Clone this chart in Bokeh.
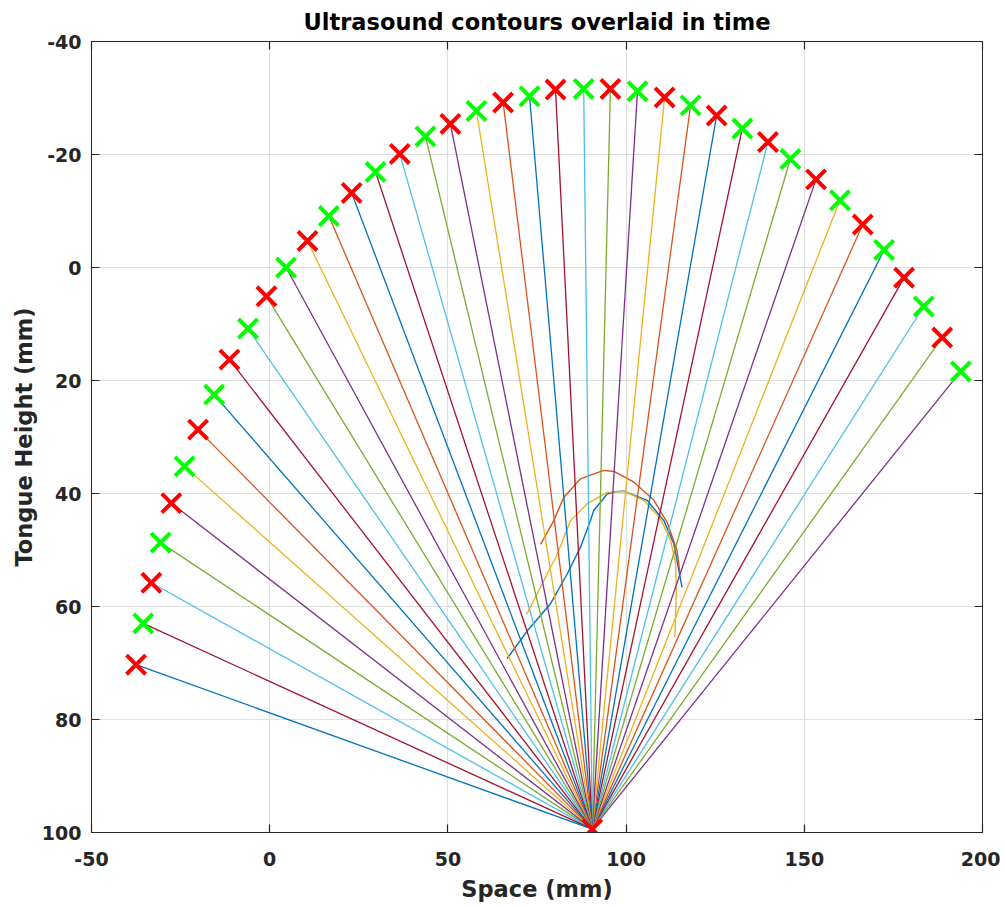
from bokeh.plotting import figure
from bokeh.models import Range1d, FixedTicker, LinearAxis
from bokeh.embed import file_html
from bokeh.resources import INLINE

# ---------------- data ----------------
title_text = "Ultrasound contours overlaid in time"
x_label = "Space (mm)"
y_label = "Tongue Height (mm)"
x_ticks = [-50, 0, 50, 100, 150, 200]
y_ticks = [-40, -20, 0, 20, 40, 60, 80, 100]

# probe origin (all rays start here)
origin_x = 90.5
origin_y = 99.4

# end points of the rays (alternating red / green crosses)
point_x = [-37.5, -35.5, -33.2, -30.6, -27.6, -23.9, -20.1, -15.6, -11.3, -6.1,
           -0.9, 4.6, 10.6, 16.6, 23.0, 29.7, 36.5, 43.7, 50.7, 58.0,
           65.5, 72.9, 80.2, 88.1, 95.6, 103.2, 110.8, 118.1, 125.4, 132.6,
           139.8, 146.1, 153.3, 160.0, 166.4, 172.4, 178.0, 183.5, 188.7, 193.9]
point_y = [70.3, 63.0, 55.8, 48.7, 41.7, 35.2, 28.7, 22.5, 16.3, 10.8,
           5.1, 0.0, -4.7, -9.1, -13.2, -16.9, -20.1, -23.2, -25.4, -27.7,
           -29.2, -30.3, -31.5, -31.6, -31.6, -31.2, -30.1, -28.7, -26.9, -24.6,
           -22.2, -19.2, -15.6, -11.9, -7.6, -3.1, 1.8, 6.9, 12.4, 18.4]

# tongue contours
contour1_x = [66.6, 72.3, 78.8, 83.5, 87.2, 90.0, 90.9, 94.7, 96.8, 99.4,
              105.9, 110.6, 113.4, 115.7]
contour1_y = [69.2, 64.3, 59.5, 54.2, 49.5, 44.8, 43.0, 40.1, 39.7, 39.6,
              41.2, 44.8, 48.9, 56.6]
contour2_x = [76.0, 79.7, 82.5, 87.2, 93.7, 96.6, 102.2, 107.8, 111.5, 114.3, 115.1]
contour2_y = [49.0, 44.8, 40.7, 37.4, 35.9, 36.1, 38.0, 41.2, 45.1, 50.1, 54.0]
contour3_x = [72.1, 76.0, 80.7, 84.4, 89.1, 94.7, 99.4, 105.0, 109.7, 112.5,
              113.9, 114.1, 113.7]
contour3_y = [61.4, 56.6, 50.7, 44.8, 41.8, 39.8, 39.6, 41.2, 44.5, 48.3,
              52.4, 57.2, 65.4]

# ---------------- style ----------------
matlab_colors = ["#0072BD", "#D95319", "#EDB120", "#7E2F8E",
                 "#77AC30", "#4DBEEE", "#A2142F"]
marker_colors = ["#FF0000", "#00FF00"]
axis_color = "#262626"
grid_color = "#dfdfdf"
font = "DejaVu Sans"

p = figure(width=1000, height=906,
           x_range=Range1d(-50, 200), y_range=Range1d(100, -40),
           output_backend="svg", toolbar_location=None,
           min_border_left=91, min_border_right=18,
           min_border_top=41, min_border_bottom=74)

p.title.text = title_text
p.title.align = "center"
p.title.text_font = font
p.title.text_font_size = "22.5px"
p.title.text_font_style = "bold"
p.title.text_color = "#000000"
p.title.standoff = 13

p.outline_line_color = axis_color
p.outline_line_width = 1

for ax, ticks in ((p.xaxis[0], x_ticks), (p.yaxis[0], y_ticks)):
    ax.ticker = FixedTicker(ticks=ticks)
    ax.major_label_overrides = {t: str(t) for t in ticks}
    ax.major_label_text_font = font
    ax.major_label_text_font_size = "19px"
    ax.major_label_text_font_style = "bold"
    ax.major_label_text_color = axis_color
    ax.axis_label_text_font = font
    ax.axis_label_text_font_size = "22.5px"
    ax.axis_label_text_font_style = "bold"
    ax.axis_label_text_color = axis_color
    ax.major_tick_in = 8
    ax.major_tick_out = 0
    ax.minor_tick_in = 0
    ax.minor_tick_out = 0
    ax.axis_line_color = axis_color
    ax.major_tick_line_color = axis_color
    ax.major_tick_line_width = 1.2

p.xaxis[0].axis_label = x_label
p.yaxis[0].axis_label = y_label
p.xaxis[0].major_label_standoff = 19
p.xaxis[0].axis_label_standoff = 7
p.yaxis[0].major_label_standoff = 10
p.yaxis[0].axis_label_standoff = 2

for loc, ticks in (("above", x_ticks), ("right", y_ticks)):
    extra = LinearAxis(ticker=FixedTicker(ticks=ticks),
                       major_label_text_font_size="1px",
                       major_label_text_color=None,
                       major_label_standoff=0,
                       major_tick_in=8, major_tick_out=0,
                       minor_tick_in=0, minor_tick_out=0,
                       axis_line_color=axis_color,
                       major_tick_line_color=axis_color,
                       major_tick_line_width=1.2)
    p.add_layout(extra, loc)

p.xgrid.ticker = FixedTicker(ticks=x_ticks)
p.ygrid.ticker = FixedTicker(ticks=y_ticks)
p.xgrid.grid_line_color = grid_color
p.ygrid.grid_line_color = grid_color
p.xgrid.grid_line_width = 1.2
p.ygrid.grid_line_width = 1.2

# contours (first three colours of the colour order)
contours = [(contour1_x, contour1_y), (contour2_x, contour2_y), (contour3_x, contour3_y)]
for k, (cx, cy) in enumerate(contours):
    p.line(cx, cy, line_color=matlab_colors[k % 7], line_width=1.4)

# rays, drawn from the last point to the first, continuing the colour order
ray_xs, ray_ys, ray_colors = [], [], []
n = len(point_x)
for k, i in enumerate(reversed(range(n))):
    ray_xs.append([origin_x, point_x[i]])
    ray_ys.append([origin_y, point_y[i]])
    ray_colors.append(matlab_colors[(len(contours) + k) % 7])
p.multi_line(xs=ray_xs, ys=ray_ys, line_color=ray_colors, line_width=1.3)

# crosses
cross_colors = [marker_colors[i % 2] for i in range(n)]
p.scatter(point_x, point_y, marker="x", size=27, line_width=4,
          line_color=cross_colors)
p.scatter([origin_x], [origin_y], marker="x", size=27, line_width=4,
          line_color=marker_colors[0])

open("out.html", "w").write(file_html(p, INLINE))
